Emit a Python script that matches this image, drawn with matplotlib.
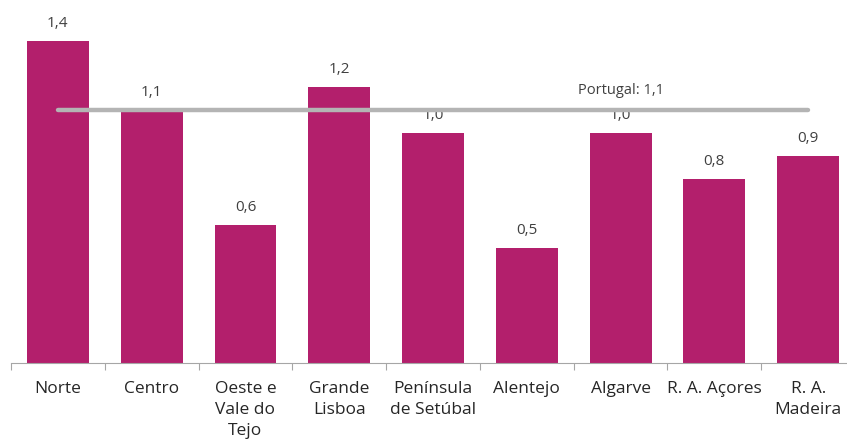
import matplotlib.pyplot as plt

# 데이터
regioes = ["Norte", "Centro", "Oeste e\nVale do\nTejo", "Grande\nLisboa", "Península\nde Setúbal",
           "Alentejo", "Algarve", "R. A. Açores", "R. A.\nMadeira"]
valores = [1.4, 1.1, 0.6, 1.2, 1.0, 0.5, 1.0, 0.8, 0.9]
portugal = 1.1

plt.rcParams['font.family'] = ['Open Sans', 'DejaVu Sans']

fig = plt.figure(figsize=(8.47, 4.41), dpi=100)
# 오른쪽 끝은 그림 밖으로 조금 나감 (원본과 같음)
ax = fig.add_axes([0.013, 0.177, 0.9965, 0.823])

x = list(range(len(regioes)))
ax.bar(x, valores, width=0.66, color='#B31F6C', zorder=2)

# 값 라벨
for i, v in enumerate(valores):
    ax.annotate(f"{v:.1f}".replace('.', ','), (i, v), xytext=(0, 7), textcoords='offset points',
                ha='center', va='bottom', fontsize=11, color='#404040')

# Portugal 평균선
ax.plot([0, len(regioes) - 1], [portugal, portugal], color='#B4B4B4', lw=3.2,
        solid_capstyle='round', zorder=3)
ax.text(6.0, portugal + 0.05, "Portugal: " + f"{portugal:.1f}".replace('.', ','),
        ha='center', va='bottom', fontsize=10.5, color='#404040')

ax.set_xlim(-0.5, 8.5)
ax.set_ylim(0, 1.578)
ax.set_yticks([])
for s in ['top', 'right', 'left']:
    ax.spines[s].set_visible(False)
ax.spines['bottom'].set_color('#A6A6A6')

ax.set_xticks([i - 0.5 for i in range(len(regioes) + 1)])
ax.set_xticklabels([])
ax.tick_params(axis='x', length=5, color='#A6A6A6', direction='out')
ax.set_xticks(x, minor=True)
ax.set_xticklabels(regioes, minor=True, fontsize=12.5, color='#262626', linespacing=1.4, va='top')
ax.tick_params(axis='x', which='minor', length=0, pad=13)

fig.savefig('out.png', dpi=100)
